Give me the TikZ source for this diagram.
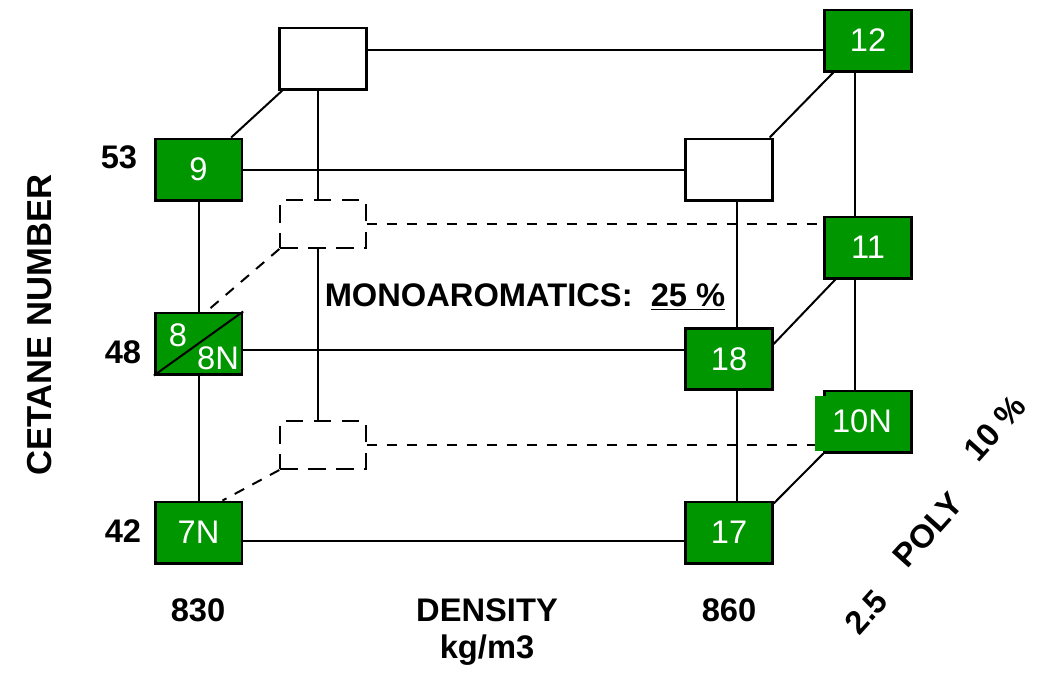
\documentclass[tikz,border=0pt]{standalone}
\usepackage{fontspec}
\setmainfont{Liberation Sans}
\usetikzlibrary{calc}

\definecolor{boxgreen}{RGB}{0,150,0}

\tikzset{
  cube/.style={line width=1.5pt},
  gbox/.style={draw,line width=2pt,fill=boxgreen,text=white,inner sep=0pt,
    minimum width=65pt,minimum height=46pt,font=\fontsize{24.5}{28}\selectfont},
  wbox/.style={draw,line width=2pt,fill=white,inner sep=0pt,
    minimum width=65pt,minimum height=46pt},
  dbox/.style={draw,line width=1.5pt,dash pattern=on 13pt off 8pt,inner sep=0pt,
    minimum width=64pt,minimum height=36pt},
  hidden/.style={line width=1.5pt,dash pattern=on 8pt off 7pt},
  lab/.style={font=\fontsize{24.5}{28}\selectfont\bfseries}
}

\begin{document}
\begin{tikzpicture}[x=0.75pt,y=-0.75pt]
  \useasboundingbox (0,0) rectangle (1046,679);

  % corners of the cube
  \node[wbox] (wb) at (323,58.5) {};
  \node[wbox] (wf) at (729,169.5) {};
  \node[gbox] (n9) at (198.5,169.5) {9};
  \node[gbox] (n8) at (198.5,343.5) {};
  \node[gbox] (n7) at (198.5,532.5) {7N};
  \node[gbox] (n18) at (729,359) {18};
  \node[gbox] (n17) at (729,532.5) {17};
  \node[gbox] (n12) at (868,40.5) {12};
  \node[gbox] (n11) at (868,247.5) {11};
  \node[gbox] (n10) at (868,421.5) {};
  \node[dbox] (d1) at (323,224) {};
  \node[dbox] (d2) at (323,445) {};

  % edges
  \draw[cube] (wb.east |- 0,50) -- (n12.west |- 0,50);
  \draw[cube] (n9) -- (wf);
  \draw[cube] ($(n9.north east)+(-12,0)$) -- ($(wb.south west)+(4,0)$);
  \draw[cube] ($(wf.north east)+(-4,0)$) -- ($(n12.south west)+(10,0)$);
  \draw[cube] (n9) -- (n8) (n8) -- (n7);
  \draw[cube] (n8.east |- 0,350) -- (n18.west |- 0,350);
  \draw[cube] (n7.east |- 0,541) -- (n17.west |- 0,541);
  \draw[cube] (wf.south -| 737,0) -- (n18.north -| 737,0);
  \draw[cube] (n18.south -| 737,0) -- (n17.north -| 737,0);
  \draw[cube] (n12.south -| 855,0) -- (n11.north -| 855,0);
  \draw[cube] (n11.south -| 855,0) -- (n10.north -| 855,0);
  \draw[cube] ($(n18.north east)+(0,17)$) -- ($(n11.south west)+(12,0)$);
  \draw[cube] ($(n17.north east)+(0,3)$) -- (n10.south west);
  \draw[cube] (wb.south -| 318,0) -- (d1.north -| 318,0);
  \draw[cube] (d1.south -| 318,0) -- (d2.north -| 318,0);

  % hidden edges
  \draw[hidden] (d1.east |- 0,224) -- (n11.west |- 0,224);
  \draw[hidden] (d2.east |- 0,445) -- (n10.west |- 0,445);
  \draw[hidden] (d1.south west) -- ($(n8.north)+(8,0)$);
  \draw[hidden] (d2.south west) -- ($(n7.north)+(24,0)$);

  % split box 8 / 8N
  \draw[line width=1.5pt] (n8.south west) -- (n8.north east);
  \node[text=white,font=\fontsize{24.5}{28}\selectfont] (t8) at (178,335) {8};
  \node[text=white,font=\fontsize{24.5}{28}\selectfont] (t8n) at (218,358) {8N};

  % shifted fill of 10N
  \fill[boxgreen] (815,396) rectangle (909,451);
  \node[text=white,font=\fontsize{24.5}{28}\selectfont] (t10) at (862,421) {10N};

  % axis labels
  \node[lab] (c53) at (119,157) {53};
  \node[lab] (c48) at (123,352) {48};
  \node[lab] (c42) at (123,531) {42};
  \node[lab,font=\fontsize{26}{30}\selectfont\bfseries,rotate=90] (cetane) at (40,325) {CETANE NUMBER};
  \node[lab] (d830) at (198,610) {830};
  \node[lab] (d860) at (729,610) {860};
  \node[lab] (dens) at (487,610) {DENSITY};
  \node[lab] (unit) at (487,650) {kg/m3};
  \node[lab] (mono) at (525,297) {MONOAROMATICS:\ \ \underline{25 \%}};
  \node[lab,rotate=48] (p25) at (866,612) {2.5};
  \node[lab,rotate=48] (poly) at (928,530) {POLY};
  \node[lab,rotate=48] (p10) at (995,428) {10 \%};
\end{tikzpicture}
\end{document}
